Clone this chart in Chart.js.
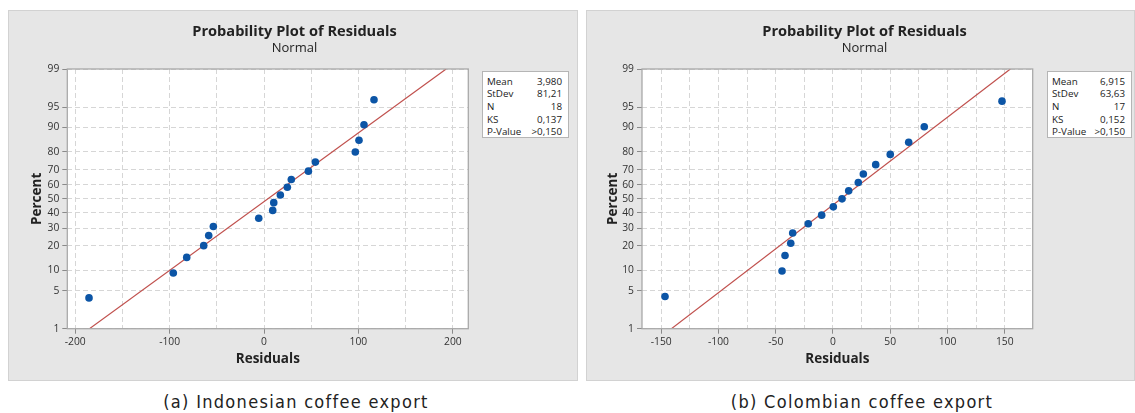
<!DOCTYPE html>
<html><head><meta charset="utf-8">
<script src="https://cdn.jsdelivr.net/npm/chart.js@4.4.1/dist/chart.umd.min.js"></script>
<style>
html,body{margin:0;padding:0;}
body{width:1135px;height:413px;background:#fff;position:relative;overflow:hidden;font-family:"Open Sans","Noto Sans",sans-serif;}
.panel{position:absolute;background:#e6e6e6;border:1px solid #d2d2d2;box-sizing:border-box;}
canvas{position:absolute;}
.title{position:absolute;font-weight:bold;font-size:14.6px;color:#222;white-space:nowrap;transform:translate(-50%,-50%);}
.sub{position:absolute;font-size:13px;color:#222;white-space:nowrap;transform:translate(-50%,-50%);}
.stats{position:absolute;background:#fff;border:1px solid #b5b5b5;box-sizing:border-box;font-size:9.8px;color:#222;}
.stats .row{position:absolute;left:4px;right:6px;height:12px;line-height:12px;}
.stats .row span.v{position:absolute;right:0;}
.cap{position:absolute;font-family:"DejaVu Sans Condensed","DejaVu Sans",sans-serif;font-stretch:condensed;font-size:18px;letter-spacing:1.3px;color:#222;white-space:nowrap;transform:translate(-50%,-50%);}
</style>
</head><body>
<div class="panel" style="left:8px;top:10px;width:570px;height:371px;"></div>
<div class="panel" style="left:586px;top:10px;width:549px;height:371px;"></div>
<canvas id="cA" width="575" height="381" style="left:0;top:0;"></canvas>
<canvas id="cB" width="557" height="381" style="left:578px;top:0;"></canvas>
<div class="title" style="left:294.5px;top:30px;">Probability Plot of Residuals</div>
<div class="sub" style="left:294.5px;top:46.5px;">Normal</div>
<div class="title" style="left:864.5px;top:30px;">Probability Plot of Residuals</div>
<div class="sub" style="left:864.5px;top:46.5px;">Normal</div>
<div class="stats" id="sA" style="left:482px;top:71px;width:87px;height:67px;"></div>
<div class="stats" id="sB" style="left:1047px;top:71px;width:85px;height:67px;"></div>
<div class="cap" style="left:296px;top:401px;">(a) Indonesian coffee export</div>
<div class="cap" style="left:862px;top:401px;">(b) Colombian coffee export</div>
<script>
// ---------- data ----------
const residualsA = [-185.4, -96.1, -81.9, -63.9, -58.6, -53.7, -5.6, 9.2, 10.3, 17.3, 24.7, 28.9, 47.0, 54.4, 96.7, 100.6, 105.9, 116.5];
const percentA   = [3.8, 9.2, 14.7, 20.1, 25.5, 31.0, 36.4, 41.8, 47.3, 52.7, 58.2, 63.6, 69.0, 74.5, 79.9, 85.3, 90.8, 96.2];
const residualsB = [-146.7, -44.5, -41.9, -36.9, -35.2, -21.6, -9.9, 0.3, 7.9, 13.7, 22.1, 26.5, 37.3, 50.0, 66.1, 79.7, 147.6];
const percentB   = [4.0, 9.8, 15.5, 21.3, 27.0, 32.8, 38.5, 44.3, 50.0, 55.7, 61.5, 67.2, 73.0, 78.7, 84.5, 90.2, 96.0];
const fitLineXA = [-184.9, 192.9];
const fitLineXB = [-141.1, 154.9];
const fitLineP  = [1, 99];
const percentTicks = [1, 5, 10, 20, 30, 40, 50, 60, 70, 80, 90, 95, 99];
const xTicksA = [-200, -150, -100, -50, 0, 50, 100, 150, 200];
const xLabelsA = [-200, -100, 0, 100, 200];
const xTicksB = [-150, -125, -100, -75, -50, -25, 0, 25, 50, 75, 100, 125, 150];
const xLabelsB = [-150, -100, -50, 0, 50, 100, 150];
const xRangeA = [-208.4, 216.4];
const xRangeB = [-166.8, 174.4];
const statNames = ["Mean", "StDev", "N", "KS", "P-Value"];
const statValuesA = ["3,980", "81,21", "18", "0,137", ">0,150"];
const statValuesB = ["6,915", "63,63", "17", "0,152", ">0,150"];

// ---------- normal probability transform ----------
function probit(p){
  const a=[-3.969683028665376e+01,2.209460984245205e+02,-2.759285104469687e+02,1.383577518672690e+02,-3.066479806614716e+01,2.506628277459239e+00];
  const b=[-5.447609879822406e+01,1.615858368580409e+02,-1.556989798598866e+02,6.680131188771972e+01,-1.328068155288572e+01];
  const c=[-7.784894002430293e-03,-3.223964580411365e-01,-2.400758277161838e+00,-2.549732539343734e+00,4.374664141464968e+00,2.938163982698783e+00];
  const d=[7.784695709041462e-03,3.224671290700398e-01,2.445134137142996e+00,3.754408661907416e+00];
  const pl=0.02425, ph=1-pl; let q,r;
  if(p<pl){q=Math.sqrt(-2*Math.log(p));return (((((c[0]*q+c[1])*q+c[2])*q+c[3])*q+c[4])*q+c[5])/((((d[0]*q+d[1])*q+d[2])*q+d[3])*q+1);}
  if(p<=ph){q=p-0.5;r=q*q;return (((((a[0]*r+a[1])*r+a[2])*r+a[3])*r+a[4])*r+a[5])*q/(((((b[0]*r+b[1])*r+b[2])*r+b[3])*r+b[4])*r+1);}
  q=Math.sqrt(-2*Math.log(1-p));return -(((((c[0]*q+c[1])*q+c[2])*q+c[3])*q+c[4])*q+c[5])/((((d[0]*q+d[1])*q+d[2])*q+d[3])*q+1);
}
const z = pct => probit(pct/100);

// ---------- stats boxes ----------
function fillStats(id, vals){
  const el=document.getElementById(id);
  statNames.forEach((n,i)=>{
    const r=document.createElement('div'); r.className='row'; r.style.top=(3.5+i*12.7)+'px';
    r.innerHTML='<span>'+n+'</span><span class="v">'+vals[i].replace('>','&gt;')+'</span>';
    el.appendChild(r);
  });
}
fillStats('sA', statValuesA); fillStats('sB', statValuesB);

// ---------- plugin ----------
const frame = {
  id:'frame',
  beforeDraw(chart){ const {ctx, chartArea:a}=chart; ctx.save(); ctx.fillStyle='#ffffff'; ctx.fillRect(a.left,a.top,a.right-a.left,a.bottom-a.top); ctx.restore(); },
  afterDraw(chart){ const {ctx, chartArea:a}=chart; ctx.save(); ctx.strokeStyle='#a9a9a9'; ctx.lineWidth=1.3; ctx.strokeRect(a.left,a.top,a.right-a.left,a.bottom-a.top); ctx.restore(); }
};

function makeChart(id, res, pct, lineX, xRange, xTicks, xLabels, cfg){
  const tickFont = {family:"'Open Sans','Noto Sans',sans-serif", size:10.3};
  new Chart(document.getElementById(id), {
    data:{ datasets:[
      { type:'scatter', data: res.map((v,i)=>({x:v, y:z(pct[i])})), backgroundColor:'#0c55a6', borderColor:'#0c55a6', pointRadius:3.8, pointHoverRadius:3.8, borderWidth:0 },
      { type:'line', data: lineX.map((v,i)=>({x:v, y:z(fitLineP[i])})), borderColor:'#c0504d', borderWidth:1.2, pointRadius:0, fill:false, tension:0 }
    ]},
    options:{
      responsive:false, animation:false, events:[],
      layout:{ padding:{ top:69, left:0, right:cfg.padRight, bottom:0 } },
      plugins:{ legend:{display:false}, tooltip:{enabled:false}, title:{display:false} },
      scales:{
        x:{ type:'linear', min:xRange[0], max:xRange[1],
          afterBuildTicks: s => { s.ticks = xTicks.map(v=>({value:v})); },
          afterFit: s => { s.height = 381 - 328.7; },
          ticks:{ autoSkip:false, maxRotation:0, padding:2, color:'#333', font:tickFont,
            callback:(v,i)=> xLabels.includes(xTicks[i]) ? String(xTicks[i]) : '' },
          grid:{ color:'#d6d6d6', lineWidth:1, tickLength:5,
            tickColor: c => (c.tick && xLabels.includes(c.tick.value)) ? '#8a8a8a' : 'rgba(0,0,0,0)' },
          border:{ display:false, dash:[5,3] },
          title:{ display:true, text:'Residuals', color:'#222', font:{family:"'Open Sans','Noto Sans',sans-serif", size:13.5, weight:'bold'}, padding:{top:0,bottom:14.2} }
        },
        y:{ type:'linear', min:z(1), max:z(99),
          afterBuildTicks: s => { s.ticks = percentTicks.map(p=>({value:z(p)})); },
          afterFit: s => { s.width = cfg.yWidth; },
          ticks:{ autoSkip:false, padding:3, color:'#333', font:tickFont, callback:(v,i)=> String(percentTicks[i]) },
          grid:{ color:'#d6d6d6', lineWidth:1, tickLength:5, tickColor:'#8a8a8a' },
          border:{ display:false, dash:[5,3] },
          title:{ display:true, text:'Percent', color:'#222', font:{family:"'Open Sans','Noto Sans',sans-serif", size:13.5, weight:'bold'}, padding:{top:cfg.yTitlePad,bottom:0} }
        }
      }
    },
    plugins:[frame]
  });
}
makeChart('cA', residualsA, percentA, fitLineXA, xRangeA, xTicksA, xLabelsA, {padRight:575-468.3, yWidth:67.3, yTitlePad:28.9});
makeChart('cB', residualsB, percentB, fitLineXB, xRangeB, xTicksB, xLabelsB, {padRight:578+557-1032.7, yWidth:64, yTitlePad:27.2});
</script>
</body></html>
